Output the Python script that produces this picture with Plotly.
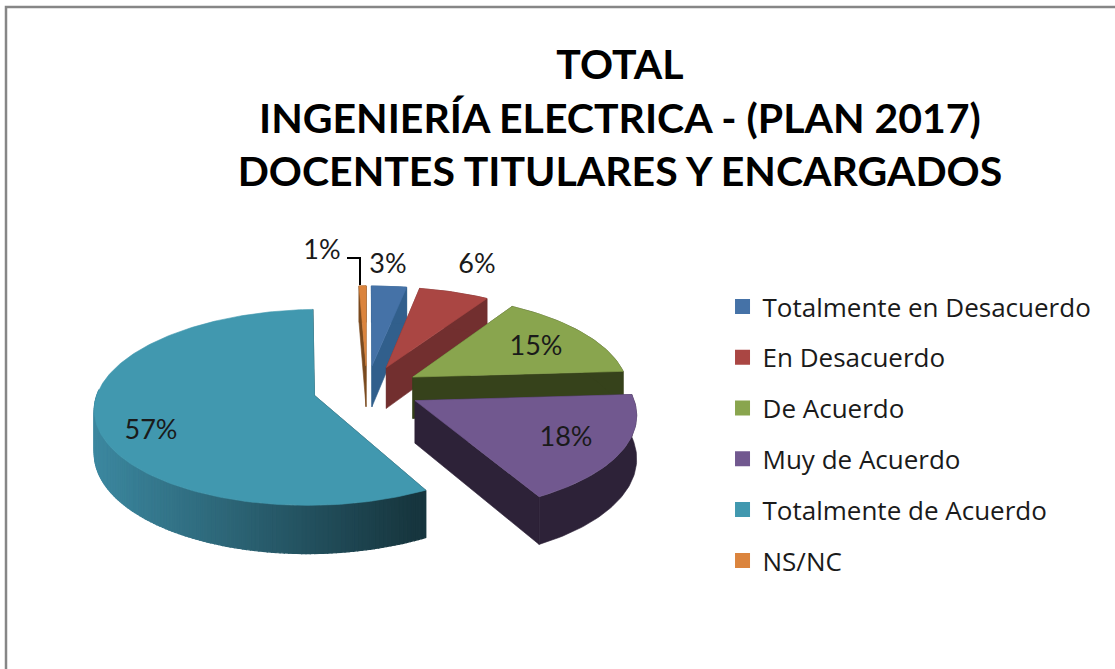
import math
import plotly.graph_objects as go

CATEGORIES = ["Totalmente en Desacuerdo", "En Desacuerdo", "De Acuerdo",
              "Muy de Acuerdo", "Totalmente de Acuerdo", "NS/NC"]
VALUES = [3, 6, 15, 18, 57.4, 0.6]
TOP_COLORS = ["#4572a7", "#aa4643", "#89a54e", "#71588f", "#4198af", "#db843d"]
WALL_COLORS = ["#315f8c", "#722f2f", "#36421b", "#2d2238", "#1a3a45", "#7a4a1f"]
TITLE_LINES = ["TOTAL", "INGENIERÍA ELECTRICA - (PLAN 2017)", "DOCENTES TITULARES Y ENCARGADOS"]
DRAW_ORDER = [5, 0, 1, 2, 4, 3]
LABEL_XY = [(388, 266), (477, 266), (536, 348), (566, 439), (151, 432), (322, 252)]

W, H = 1115, 669
CX, CY = 367, 389
RX, RY = 216, 95
PERSP = 0.121
EXPLODE = 0.25
DEPTH = 42


def project(u, v, z=0.0):
    d = 1 - PERSP * v
    return CX + RX * u / d, CY + RY * v / d + z * DEPTH / d


def mix(a, b, t):
    ca = [int(a[i:i + 2], 16) for i in (1, 3, 5)]
    cb = [int(b[i:i + 2], 16) for i in (1, 3, 5)]
    return "#%02x%02x%02x" % tuple(round(x + (y - x) * t) for x, y in zip(ca, cb))


fig = go.Figure()


def poly(pts, color, width=0.6):
    xs = [p[0] for p in pts] + [pts[0][0]]
    ys = [p[1] for p in pts] + [pts[0][1]]
    fig.add_trace(go.Scatter(x=xs, y=ys, mode="lines", fill="toself", fillcolor=color,
                             line=dict(color=color, width=width), hoverinfo="skip",
                             showlegend=False))


total = sum(VALUES)
starts = []
acc = 0
for v in VALUES:
    starts.append(acc)
    acc += v

for idx in DRAW_ORDER:
    a0 = starts[idx] / total * 2 * math.pi
    a1 = (starts[idx] + VALUES[idx]) / total * 2 * math.pi
    mid = (a0 + a1) / 2
    ou, ov = EXPLODE * math.sin(mid), -EXPLODE * math.cos(mid)
    n = max(4, int((a1 - a0) / math.radians(1)))
    ang = [a0 + (a1 - a0) * i / n for i in range(n + 1)]
    rim = [(ou + math.sin(t), ov - math.cos(t)) for t in ang]
    apex = (ou, ov)
    # radial walls
    for e in (rim[0], rim[-1]):
        poly([project(*apex), project(*e), project(*e, 1), project(*apex, 1)], WALL_COLORS[idx])
    # outer wall: one flat polygon, or shaded bands from left to right on the big slice
    if idx == 4:
        for i in range(n):
            p, q = rim[i], rim[i + 1]
            x = project(*p)[0]
            # only the part facing the viewer can be seen
            if p[1] - ov < -0.05 and q[1] - ov < -0.05:
                continue
            c = mix("#3c88a0", "#17363f", min(1, max(0, (x - 93) / 320)))
            poly([project(*p), project(*q), project(*q, 1), project(*p, 1)], c, 1.2)
    else:
        poly([project(*r) for r in rim] + [project(*r, 1) for r in reversed(rim)],
             WALL_COLORS[idx])
    poly([project(*apex)] + [project(*r) for r in rim], TOP_COLORS[idx])

# leader line of the smallest slice
fig.add_trace(go.Scatter(x=[347, 360, 360], y=[258, 258, 285], mode="lines",
                         line=dict(color="#000000", width=2), hoverinfo="skip",
                         showlegend=False))

# data labels
fig.add_trace(go.Scatter(x=[p[0] for p in LABEL_XY], y=[p[1] for p in LABEL_XY], mode="text",
                         text=[f"{round(v)}%" for v in VALUES], textposition="middle center",
                         textfont=dict(family="Lato", size=27, color="#1a1a1a"),
                         hoverinfo="skip", showlegend=False))

# legend entries
for name, color in zip(CATEGORIES, TOP_COLORS):
    fig.add_trace(go.Scatter(x=[None], y=[None], mode="markers", name=name, legendgroup=name,
                             marker=dict(symbol="square", size=15, color=color)))

fig.update_layout(
    width=W, height=H, margin=dict(l=0, r=0, t=0, b=0),
    paper_bgcolor="white", plot_bgcolor="white",
    title=dict(text="<br>".join(TITLE_LINES), x=0.556, xanchor="center", y=0.8815, yanchor="top",
               font=dict(family="Lato", size=41, color="#000000", weight="bold")),
    xaxis=dict(range=[0, W], visible=False),
    yaxis=dict(range=[H, 0], visible=False),
    legend=dict(x=0.648, y=0.577, xanchor="left", yanchor="top", tracegroupgap=14,
                font=dict(family="Open Sans", size=26, color="#1a1a1a"), itemwidth=30,
                bgcolor="rgba(0,0,0,0)"),
    shapes=[dict(type="path", path=f"M 6 {H} L 6 7 L {W} 7", xref="x", yref="y",
                 line=dict(color="#868686", width=2.5))],
)

fig.write_html("out.html", config={"displayModeBar": False},
               post_script="document.body.style.margin='0';")
